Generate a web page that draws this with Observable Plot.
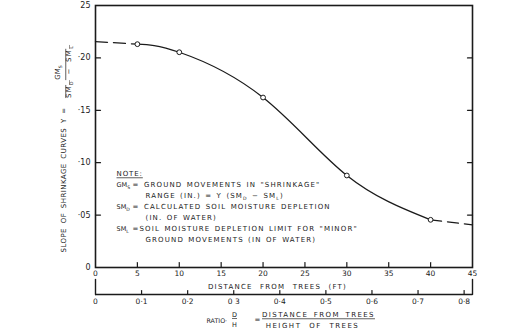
<!DOCTYPE html>
<html><head><meta charset="utf-8">
<script src="https://cdn.jsdelivr.net/npm/d3@7"></script>
<script src="https://cdn.jsdelivr.net/npm/@observablehq/plot@0.6"></script>
<style>
body{margin:0;background:#fff;}
#chart svg{display:block;}
</style></head><body><div id="chart"></div>
<script>
// Measured points on the shrinkage-slope curve
const distanceFt = [5, 10, 20, 30, 40];
const slopeY = [0.2131, 0.2054, 0.1622, 0.0878, 0.0455];
// Dashed extrapolations at both ends
const startFt = [0, 5];
const startY = [0.2156, 0.2131];
const endFt = [40, 45];
const endY = [0.0455, 0.0407];
// Axes
const yTicks = [0, 0.05, 0.10, 0.15, 0.20, 0.25];
const yTickLabels = ["0", "·05", "·10", "·15", "·20", "25"];
const xTicks = [0, 5, 10, 15, 20, 25, 30, 35, 40, 45];
const xTickLabels = ["0", "5", "10", "15", "20", "25", "30", "35", "40", "45"];
const ratioTicks = [0, 0.1, 0.2, 0.3, 0.4, 0.5, 0.6, 0.7, 0.8];
const ratioTickLabels = ["0", "0·1", "0·2", "0 3", "0·4", "0·5", "0·6", "0·7", "0·8"];
const treeHeightFt = 55;
// Texts
const yTitle = "SLOPE OF SHRINKAGE CURVES Y =";
const yTitleNum = "GM_S";
const yTitleDen = "SM_D − SM_L";
const xTitle = "DISTANCE FROM TREES (FT)";
const ratioWord = "RATIO·";
const ratioNum = "D", ratioDen = "H";
const ratioFracNum = "DISTANCE FROM TREES", ratioFracDen = "HEIGHT OF TREES";
const noteHead = "NOTE:";
const noteSymbols = ["GM_S", "SM_D", "SM_L"];
const noteDefs = ["= GROUND MOVEMENTS IN \"SHRINKAGE\"", "= CALCULATED SOIL MOISTURE DEPLETION", "=SOIL MOISTURE DEPLETION LIMIT FOR \"MINOR\""];
const noteConts = ["RANGE (IN.) = Y (SM_D − SM_L)", "(IN. OF WATER)", "GROUND MOVEMENTS (IN OF WATER)"];

const curve = distanceFt.map((x, i) => ({x, y: slopeY[i]}));
const startSeg = startFt.map((x, i) => ({x, y: startY[i]}));
const endSeg = endFt.map((x, i) => ({x, y: endY[i]}));
const ratioPos = ratioTicks.map(r => r * treeHeightFt);
const innerYTicks = yTicks.slice(1, -1);
const innerXTicks = xTicks.slice(1, -1);

const ML = 95, MT = 5, INK = "#1b1b1b";
const stick = {draw(context, l) { context.moveTo(0, 0); context.lineTo(0, -l); }};
const textStyles = new Map();
function label(t, px, py, opts = {}, css = null) {
  if (css) textStyles.set(t, css);
  return Plot.text([t], {text: d => d, frameAnchor: "top-left", dx: px - ML, dy: py - MT,
    textAnchor: "start", fill: INK, fontSize: 7, ...opts});
}
const NOTE = {letterSpacing: "1.15px", wordSpacing: "1px"};

const marks = [
  Plot.frame({stroke: INK, strokeWidth: 1.6}),
  // inward ticks
  Plot.vector(innerYTicks, {y: d => d, frameAnchor: "left", rotate: 90, length: 5, anchor: "start", shape: stick, stroke: INK, strokeWidth: 1.2}),
  Plot.vector(innerYTicks, {y: d => d, frameAnchor: "right", rotate: -90, length: 5, anchor: "start", shape: stick, stroke: INK, strokeWidth: 1.2}),
  Plot.vector(innerXTicks, {x: d => d, frameAnchor: "bottom", rotate: 0, length: 5, anchor: "start", shape: stick, stroke: INK, strokeWidth: 1.2}),
  // tick labels
  Plot.axisY(yTicks, {anchor: "left", tickSize: 0, tickPadding: 5, fill: INK, label: null,
    tickFormat: d => yTickLabels[yTicks.indexOf(d)], fontSize: 8}),
  Plot.axisX(xTicks, {anchor: "bottom", tickSize: 0, tickPadding: 3, fill: INK, label: null,
    tickFormat: d => xTickLabels[xTicks.indexOf(d)], fontSize: 7.5}),
  // ratio D/H axis below
  Plot.ruleY([0], {dy: 27, stroke: INK, strokeWidth: 1.4}),
  Plot.vector([0, 45], {x: d => d, frameAnchor: "bottom", dy: 27, rotate: 0, length: 15, anchor: "start", shape: stick, stroke: INK, strokeWidth: 1.4}),
  Plot.vector(ratioPos.slice(1), {x: d => d, frameAnchor: "bottom", dy: 27, rotate: 0, length: 4, anchor: "start", shape: stick, stroke: INK, strokeWidth: 1.2}),
  Plot.axisX(ratioPos, {anchor: "bottom", dy: 27, tickSize: 0, tickPadding: 4, fill: INK, label: null,
    tickFormat: d => ratioTickLabels[ratioPos.indexOf(d)], fontSize: 7.5}),
  // curve
  Plot.line(startSeg, {x: "x", y: "y", curve: "natural", stroke: INK, strokeWidth: 1.3, strokeDasharray: "12,6"}),
  Plot.line(endSeg, {x: "x", y: "y", curve: "natural", stroke: INK, strokeWidth: 1.3, strokeDasharray: "11,6"}),
  Plot.line(curve, {x: "x", y: "y", curve: "natural", stroke: INK, strokeWidth: 1.3}),
  Plot.dot(curve, {x: "x", y: "y", r: 2.4, stroke: INK, strokeWidth: 1, fill: "white"}),
  // titles
  label(xTitle, 277, 284, {textAnchor: "middle"}, {letterSpacing: "1.2px", wordSpacing: "4px"}),
  label(ratioWord, 206, 318, {fontSize: 6.3}, {letterSpacing: "0px"}),
  label(ratioNum, 234, 312, {textAnchor: "middle", fontSize: 6.5}, {textDecoration: "underline"}),
  label(ratioDen, 234, 322, {textAnchor: "middle", fontSize: 6.5}),
  label("=", 257, 317, {textAnchor: "middle"}),
  label(ratioFracNum, 318, 312, {textAnchor: "middle"}, {letterSpacing: "1.4px", wordSpacing: "2px", textDecoration: "underline"}),
  label(ratioFracDen, 312, 323, {textAnchor: "middle"}, {letterSpacing: "1.5px", wordSpacing: "4px"}),
  label(yTitle, 61, 252, {rotate: -90}, {letterSpacing: "0.45px", wordSpacing: "2px"}),
  label(yTitleNum, 55, 72, {rotate: -90, textAnchor: "middle"}, {letterSpacing: "0.8px"}),
  label(yTitleDen, 66, 71, {rotate: -90, textAnchor: "middle"}, {letterSpacing: "1.3px", wordSpacing: "2px", textDecoration: "overline"}),
  // note
  label(noteHead, 116, 171, {}, {letterSpacing: "0.9px", textDecoration: "underline"}),
  ...noteSymbols.map((s, i) => label(s, 116, 182 + 22 * i, {fontSize: 6.5}, {letterSpacing: "0px"})),
  ...noteDefs.map((s, i) => label(s, 132, 182 + 22 * i, {}, NOTE)),
  ...noteConts.map((s, i) => label(s, 145, 193 + 22 * i, {}, NOTE))
];

const chart = Plot.plot({
  width: 505, height: 332,
  marginLeft: ML, marginRight: 33, marginTop: MT, marginBottom: 65,
  x: {domain: [0, 45], axis: null},
  y: {domain: [0, 0.25], axis: null},
  style: {fontFamily: "'DejaVu Sans', sans-serif", background: "white", color: INK},
  marks
});

// styling + subscripts
const NS = "http://www.w3.org/2000/svg";
chart.querySelectorAll("text").forEach(t => {
  const s = t.textContent;
  const css = textStyles.get(s);
  if (css) Object.assign(t.style, css);
  if (!s.includes("_") || t.querySelector("tspan")) return;
  t.textContent = "";
  const parts = s.split(/_(\w)/);
  let shifted = false;
  parts.forEach((p, i) => {
    if (!p) return;
    const ts = document.createElementNS(NS, "tspan");
    ts.textContent = p;
    if (i % 2 === 1) { ts.setAttribute("dy", "1.8"); ts.setAttribute("font-size", "4.6"); shifted = true; }
    else if (shifted) { ts.setAttribute("dy", "-1.8"); shifted = false; }
    t.appendChild(ts);
  });
});
document.getElementById("chart").appendChild(chart);
</script></body></html>
